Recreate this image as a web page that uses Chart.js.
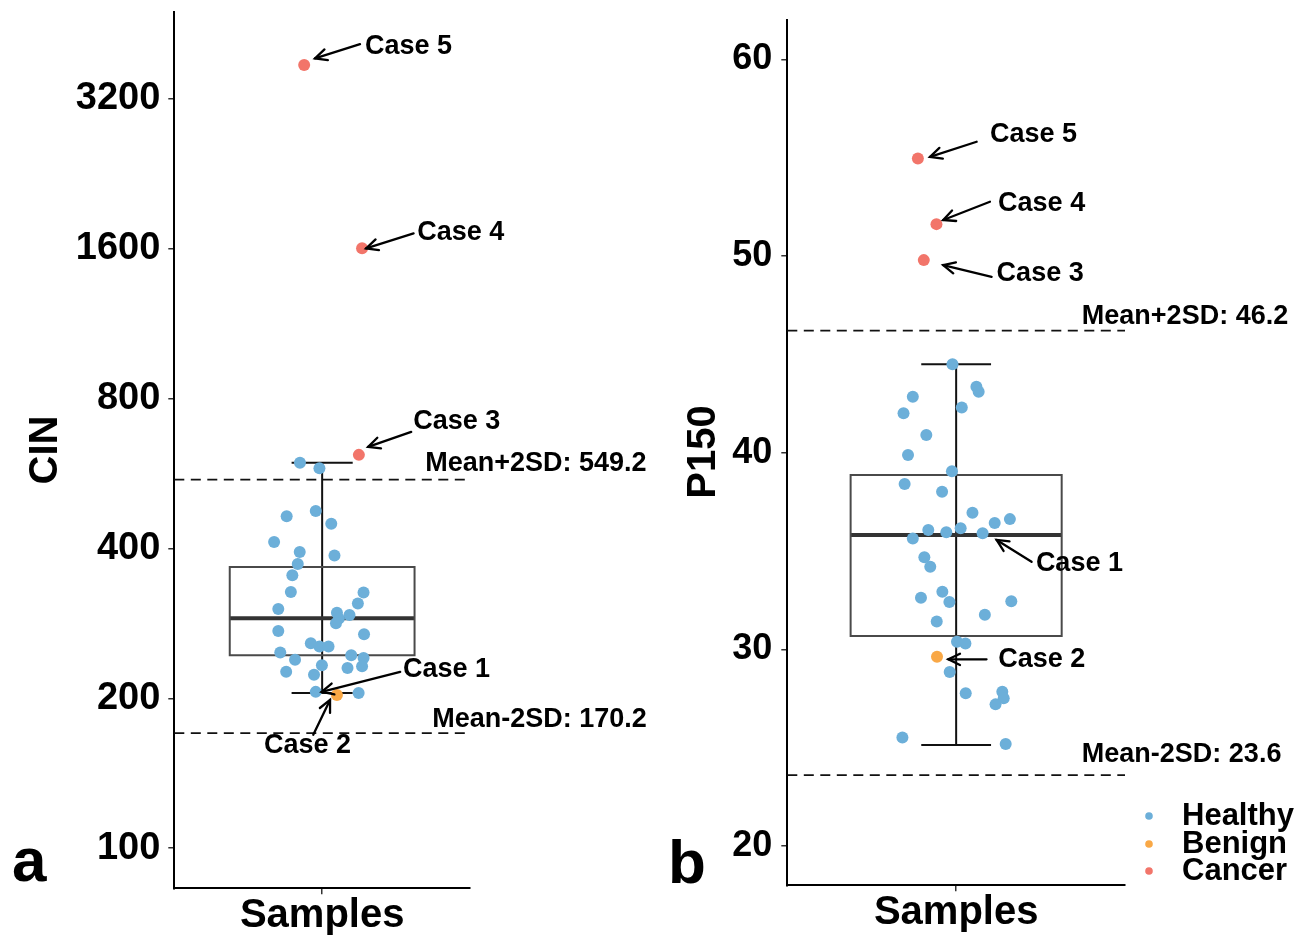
<!DOCTYPE html>
<html><head><meta charset="utf-8">
<script src="https://cdn.jsdelivr.net/npm/chart.js@4"></script>
<style>
html,body{margin:0;padding:0;background:#fff;}
body{width:1306px;height:935px;position:relative;overflow:hidden;}
canvas{position:absolute;top:0;}
#cA{left:0}
#cB{left:660px}
</style></head><body>
<canvas id="cA" width="660" height="935"></canvas>
<canvas id="cB" width="646" height="935"></canvas>
<script>
const FONT = '"Liberation Sans", Arial, sans-serif';
const groups = ['Healthy', 'Benign', 'Cancer'];
const groupColors = ['#6CAFD9', '#F9A846', '#F2756A'];
const xCategory = 'Samples';
const caseLabels = ['Case 1', 'Case 2', 'Case 3', 'Case 4', 'Case 5'];

// ---- Panel a : CIN (log2 axis) ----
const cinTicks = [100, 200, 400, 800, 1600, 3200];
const cinHealthy = [594, 579, 464, 475, 448, 412, 393, 387, 372, 353, 327, 326, 310, 302, 297, 294, 289, 283, 273, 269, 258, 254, 254, 247, 244, 239, 241, 233, 232, 226, 230, 223, 206, 205];
const cinHealthyJitter = [-0.090, -0.011, -0.144, -0.026, 0.037, -0.195, -0.091, 0.050, -0.099, -0.121, -0.127, 0.168, 0.145, -0.178, 0.060, 0.111, 0.068, 0.056, -0.178, 0.170, -0.046, -0.011, 0.026, -0.170, 0.118, -0.110, 0.168, -0.001, 0.162, -0.146, 0.103, -0.033, -0.026, 0.148];
const cinBenign = [203];
const cinBenignJitter = [0.060];
const cinCancer = [616, 1600, 3732];
const cinCancerJitter = [0.149, 0.162, -0.073];
const cinBox = [205, 244, 289.5, 367, 594]; // lower whisker, Q1, median, Q3, upper whisker
const cinLimits = [549.2, 170.2];
const cinLimitLabels = ['Mean+2SD: 549.2', 'Mean-2SD: 170.2'];

// ---- Panel b : P150 ----
const p150Ticks = [20, 30, 40, 50, 60];
const p150Healthy = [44.50, 43.35, 43.10, 42.84, 42.00, 42.30, 40.90, 39.88, 39.06, 38.40, 38.01, 36.94, 36.62, 36.42, 36.07, 35.95, 36.15, 35.90, 35.64, 34.68, 34.20, 32.93, 32.62, 32.40, 32.44, 31.76, 31.42, 30.39, 30.30, 28.85, 27.76, 27.84, 27.51, 27.20, 25.51, 25.19];
const p150HealthyJitter = [-0.013, 0.072, 0.080, -0.154, -0.187, 0.020, -0.106, -0.171, -0.015, -0.183, -0.050, 0.058, 0.191, 0.137, -0.099, -0.035, 0.016, 0.094, -0.154, -0.113, -0.092, -0.049, -0.125, -0.024, 0.196, 0.102, -0.069, 0.003, 0.033, -0.023, 0.034, 0.164, 0.169, 0.140, -0.191, 0.176];
const p150Benign = [29.62];
const p150BenignJitter = [-0.068];
const p150Cancer = [49.79, 51.62, 54.96];
const p150CancerJitter = [-0.115, -0.070, -0.136];
const p150Box = [25.13, 30.68, 35.81, 38.86, 44.50];
const p150Limits = [46.2, 23.6];
const p150LimitLabels = ['Mean+2SD: 46.2', 'Mean-2SD: 23.6'];

// ---- layout (positions, in data coordinates of each panel) ----
const X_MIN = -0.6, X_MAX = 0.6, BOX_HALF = 0.375, CAP_HALF = 0.124;

const panelA = {
  canvas: 'cA', canvasW: 660, canvasH: 935,
  area: {left: 174.3, right: 470, top: 12, bottom: 888.3},
  yType: 'logarithmic', yMin: 83.1, yMax: 4770, ticks: cinTicks, tickSize: 38, tickPad: 8,
  series: [[cinHealthy, cinHealthyJitter], [cinBenign, cinBenignJitter], [cinCancer, cinCancerJitter]],
  box: cinBox, limits: cinLimits, limitLabels: cinLimitLabels,
  limitLabelPos: [[0.418, 591], [0.447, 181]],
  // [caseIndex, textX, textY, align, fromX, fromY, toX, toY]
  cases: [
    [0, 0.3277, 228, 'left', 0.3167, 226, -0.002, 206],
    [1, -0.0596, 161, 'center', -0.036, 169, 0.032, 198.5],
    [2, 0.3696, 720, 'left', 0.3614, 685, 0.1865, 639],
    [3, 0.3858, 1725, 'left', 0.371, 1715, 0.1784, 1600],
    [4, 0.174, 4075, 'left', 0.1536, 4113, -0.029, 3850]
  ],
  yTitle: 'CIN', yTitlePos: [46, 450], letter: 'a', letterPos: [12, 881], legend: false
};

const panelB = {
  canvas: 'cB', canvasW: 646, canvasH: 935,
  area: {left: 127.3, right: 465, top: 20, bottom: 885.3},
  yType: 'linear', yMin: 18, yMax: 62, ticks: p150Ticks, tickSize: 36, tickPad: 9,
  series: [[p150Healthy, p150HealthyJitter], [p150Benign, p150BenignJitter], [p150Cancer, p150CancerJitter]],
  box: p150Box, limits: p150Limits, limitLabels: p150LimitLabels,
  limitLabelPos: [[0.4466, 46.94], [0.4466, 24.63]],
  cases: [
    [0, 0.2833, 34.34, 'left', 0.268, 34.45, 0.1438, 35.56],
    [1, 0.1495, 29.49, 'left', 0.108, 29.49, -0.028, 29.49],
    [2, 0.1438, 49.12, 'left', 0.126, 48.94, -0.046, 49.54],
    [3, 0.149, 52.67, 'left', 0.12, 52.76, -0.046, 51.83],
    [4, 0.12, 56.15, 'left', 0.0728, 55.81, -0.093, 55.04]
  ],
  yTitle: 'P150', yTitlePos: [44, 452], letter: 'b', letterPos: [8, 883],
  legend: true, legendDotX: 489, legendTextX: 522, legendY: [816, 844, 871]
};

function arrow(ctx, x1, y1, x2, y2) {
  ctx.beginPath(); ctx.moveTo(x1, y1); ctx.lineTo(x2, y2); ctx.stroke();
  const a = Math.atan2(y2 - y1, x2 - x1), L = 13, t = Math.PI / 7;
  ctx.beginPath();
  ctx.moveTo(x2 - L * Math.cos(a - t), y2 - L * Math.sin(a - t));
  ctx.lineTo(x2, y2);
  ctx.lineTo(x2 - L * Math.cos(a + t), y2 - L * Math.sin(a + t));
  ctx.stroke();
}

function annotPlugin(p) {
  return {
    id: 'annot_' + p.canvas,
    afterDraw(chart) {
      const ctx = chart.ctx, xs = chart.scales.x, ys = chart.scales.y;
      ctx.save();
      ctx.fillStyle = '#000'; ctx.strokeStyle = '#000';
      // y title
      ctx.save();
      ctx.translate(p.yTitlePos[0], p.yTitlePos[1]);
      ctx.rotate(-Math.PI / 2);
      ctx.font = 'bold 40px ' + FONT;
      ctx.textAlign = 'center'; ctx.textBaseline = 'middle';
      ctx.fillText(p.yTitle, 0, 0);
      ctx.restore();
      // panel letter
      ctx.font = 'bold 62px ' + FONT;
      ctx.textAlign = 'left'; ctx.textBaseline = 'alphabetic';
      ctx.fillText(p.letter, p.letterPos[0], p.letterPos[1]);
      // limit labels
      ctx.font = 'bold 27px ' + FONT;
      ctx.textBaseline = 'middle';
      p.limitLabels.forEach((t, i) => {
        const [lx, ly] = p.limitLabelPos[i];
        ctx.textAlign = 'left';
        ctx.fillText(t, xs.getPixelForValue(lx), ys.getPixelForValue(ly));
      });
      // case annotations
      ctx.lineWidth = 2.3; ctx.lineCap = 'round'; ctx.lineJoin = 'miter';
      p.cases.forEach(c => {
        const [ci, tx, ty, al, fx, fy, toX, toY] = c;
        ctx.textAlign = al;
        ctx.fillText(caseLabels[ci], xs.getPixelForValue(tx), ys.getPixelForValue(ty));
        arrow(ctx, xs.getPixelForValue(fx), ys.getPixelForValue(fy), xs.getPixelForValue(toX), ys.getPixelForValue(toY));
      });
      // legend
      if (p.legend) {
        ctx.font = 'bold 31px ' + FONT;
        ctx.textAlign = 'left'; ctx.textBaseline = 'middle';
        groups.forEach((g, i) => {
          ctx.fillStyle = groupColors[i];
          ctx.beginPath(); ctx.arc(p.legendDotX, p.legendY[i], 3.8, 0, Math.PI * 2); ctx.fill();
          ctx.fillStyle = '#000';
          ctx.fillText(g, p.legendTextX, p.legendY[i]);
        });
      }
      ctx.restore();
    }
  };
}

function lineDs(data, color, width, order, dash) {
  return {data, showLine: true, borderColor: color, borderWidth: width, pointRadius: 0,
    fill: false, tension: 0, order, borderDash: dash || [], borderCapStyle: 'butt'};
}

function buildPanel(p) {
  const datasets = [];
  p.limits.forEach(v => datasets.push(lineDs([{x: X_MIN, y: v}, {x: X_MAX, y: v}], '#111', 1.8, 5, [10, 6.5])));
  const [lo, q1, med, q3, hi] = p.box;
  datasets.push(lineDs([{x: 0, y: lo}, {x: 0, y: hi}], '#111', 2, 4));
  datasets.push(lineDs([{x: -CAP_HALF, y: lo}, {x: CAP_HALF, y: lo}], '#111', 2, 4));
  datasets.push(lineDs([{x: -CAP_HALF, y: hi}, {x: CAP_HALF, y: hi}], '#111', 2, 4));
  const boxDs = lineDs([{x: -BOX_HALF, y: q1}, {x: BOX_HALF, y: q1}, {x: BOX_HALF, y: q3}, {x: -BOX_HALF, y: q3}, {x: -BOX_HALF, y: q1}], '#4a4a4a', 2, 3);
  boxDs.borderCapStyle = 'square';
  datasets.push(boxDs);
  datasets.push(lineDs([{x: -BOX_HALF, y: med}, {x: BOX_HALF, y: med}], '#333', 4, 3));
  p.series.forEach(([vals, jit], i) => {
    datasets.push({
      data: vals.map((v, k) => ({x: jit[k], y: v})),
      showLine: false, pointRadius: 6, pointBackgroundColor: groupColors[i],
      pointBorderColor: groupColors[i], pointBorderWidth: 0, order: 1
    });
  });
  const gridOpts = {display: true, drawOnChartArea: false, drawTicks: true, tickLength: 6, color: '#333', lineWidth: 1.5};
  new Chart(document.getElementById(p.canvas), {
    type: 'scatter',
    data: {datasets},
    options: {
      responsive: false, animation: false, events: [],
      layout: {padding: {left: 0, top: p.area.top, right: p.canvasW - p.area.right, bottom: 0}},
      plugins: {legend: {display: false}, tooltip: {enabled: false}},
      scales: {
        x: {
          type: 'linear', min: X_MIN, max: X_MAX,
          afterBuildTicks: s => { s.ticks = [{value: 0}]; },
          afterFit: s => { s.height = p.canvasH - p.area.bottom; s.paddingLeft = 0; s.paddingRight = 0; },
          ticks: {callback: () => xCategory, font: {family: FONT, size: 40, weight: 'bold', lineHeight: 1},
            color: '#000', padding: 2, maxRotation: 0, autoSkip: false},
          grid: gridOpts,
          border: {display: true, color: '#000', width: 2}
        },
        y: {
          type: p.yType, min: p.yMin, max: p.yMax,
          afterBuildTicks: s => { s.ticks = p.ticks.map(v => ({value: v})); },
          afterFit: s => { s.width = p.area.left; s.paddingTop = 0; s.paddingBottom = 0; },
          ticks: {callback: v => String(v), font: {family: FONT, size: p.tickSize, weight: 'bold', lineHeight: 1},
            color: '#000', padding: p.tickPad, autoSkip: false},
          grid: gridOpts,
          border: {display: true, color: '#000', width: 2}
        }
      }
    },
    plugins: [annotPlugin(p)]
  });
}

buildPanel(panelA);
buildPanel(panelB);
</script>
</body></html>
